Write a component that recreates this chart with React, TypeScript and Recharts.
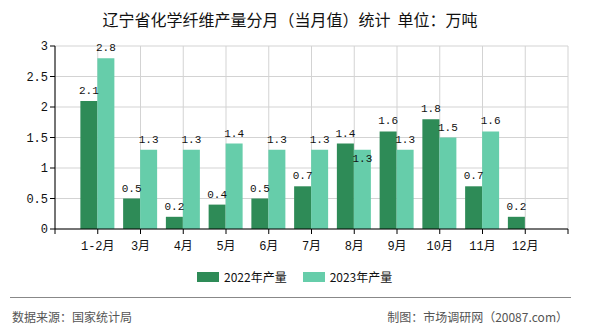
import React from 'react';
import { BarChart, Bar, XAxis, YAxis, CartesianGrid, LabelList } from 'recharts';

const months = ['1-2月', '3月', '4月', '5月', '6月', '7月', '8月', '9月', '10月', '11月', '12月'];
const output2022 = [2.1, 0.5, 0.2, 0.4, 0.5, 0.7, 1.4, 1.6, 1.8, 0.7, 0.2];
const output2023: (number | null)[] = [2.8, 1.3, 1.3, 1.4, 1.3, 1.3, 1.3, 1.3, 1.5, 1.6, null];
const yTicks = [0, 0.5, 1, 1.5, 2, 2.5, 3];

const DARK = '#2e8b57';
const LIGHT = '#66cdaa';
const MONO = "'Liberation Mono', 'Noto Sans CJK SC', monospace";
const CJK = "'Noto Sans CJK SC', sans-serif";

// 数値軸で 0..12 にして、カテゴリは 1..11 の位置に置く
const chartData = months.map((m, i) => ({
  idx: i + 1,
  month: m,
  v2022: output2022[i],
  v2023: output2023[i],
}));
const xTicks = Array.from({ length: months.length + 2 }, (_, i) => i);

const makeLabel = (series: 'v2022' | 'v2023') => (props: any) => {
  const { x, y, width, value, index } = props;
  if (value == null) return null;
  let ty = y - 7;
  if (series === 'v2023') {
    const other = output2022[index];
    // 隣のラベルとかぶる時はバーの内側に下げる
    if (other != null && other > value && other - value < 0.2) ty = y + 12;
  }
  return (
    <text x={x + width / 2} y={ty} textAnchor="middle" fontSize={11} fontFamily={MONO} fill="#111">
      {value}
    </text>
  );
};

const XTick = (props: any) => {
  const { x, y, payload } = props;
  const label = months[payload.value - 1];
  if (!label) return null;
  return (
    <text x={x} y={y + 14} textAnchor="middle" fontSize={12} fontFamily={MONO} fill="#111">
      {label}
    </text>
  );
};

export default function App() {
  return (
    <div style={{ position: 'absolute', left: 0, top: 0, width: 590, height: 330, background: '#fff', fontFamily: CJK }}>
      <div style={{ position: 'absolute', left: 0, width: 580, top: 8, textAlign: 'center', fontSize: 16, color: '#111', lineHeight: '22px' }}>
        辽宁省化学纤维产量分月（当月值）统计&nbsp;&nbsp;单位：万吨
      </div>
      <BarChart
        width={590}
        height={330}
        data={chartData}
        margin={{ top: 46, right: 22, left: 0, bottom: 0 }}
        barGap={0}
        barSize={17}
      >
        <CartesianGrid stroke="#d3d3d3" strokeWidth={1} />
        <XAxis
          type="number"
          dataKey="idx"
          domain={[0, months.length + 1]}
          ticks={xTicks}
          interval={0}
          allowDecimals={false}
          axisLine={{ stroke: '#000' }}
          tickLine={{ stroke: '#000' }}
          tickSize={5}
          tick={<XTick />}
          height={101}
        />
        <YAxis
          width={55}
          domain={[0, 3]}
          ticks={yTicks}
          interval={0}
          axisLine={{ stroke: '#000' }}
          tickLine={{ stroke: '#000' }}
          tickSize={5}
          tick={{ fontSize: 12, fontFamily: MONO, fill: '#111' }}
        />
        <Bar dataKey="v2022" name="2022年产量" fill={DARK} isAnimationActive={false}>
          <LabelList dataKey="v2022" content={makeLabel('v2022')} />
        </Bar>
        <Bar dataKey="v2023" name="2023年产量" fill={LIGHT} isAnimationActive={false}>
          <LabelList dataKey="v2023" content={makeLabel('v2023')} />
        </Bar>
      </BarChart>
      <div style={{ position: 'absolute', top: 268, left: 197, display: 'flex', alignItems: 'center', fontSize: 12, color: '#111', lineHeight: '18px' }}>
        <span style={{ display: 'inline-block', width: 22, height: 10, background: DARK, marginRight: 5 }} />
        <span style={{ marginRight: 16 }}>2022年产量</span>
        <span style={{ display: 'inline-block', width: 22, height: 10, background: LIGHT, marginRight: 5 }} />
        <span>2023年产量</span>
      </div>
      <div style={{ position: 'absolute', top: 297, left: 10, width: 561, borderTop: '1px solid #888' }} />
      <div style={{ position: 'absolute', top: 308, left: 12, fontSize: 12, color: '#555', lineHeight: '18px' }}>
        数据来源：国家统计局
      </div>
      <div style={{ position: 'absolute', top: 308, right: 22, fontSize: 12, color: '#555', lineHeight: '18px' }}>
        制图：市场调研网（20087.com）
      </div>
    </div>
  );
}
